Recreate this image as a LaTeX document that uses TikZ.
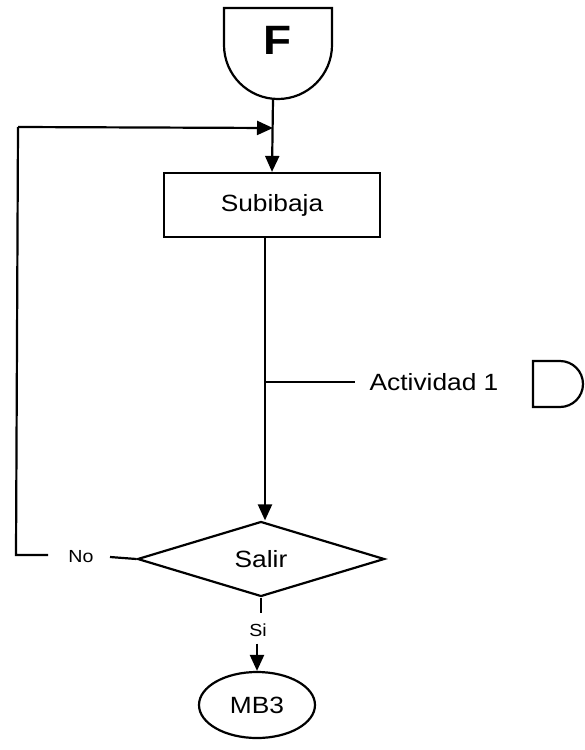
\documentclass[tikz,border=0pt]{standalone}
\usepackage{fontspec}
\setmainfont{Liberation Sans}[FakeStretch=1.12]
\usetikzlibrary{arrows.meta,shapes.geometric,calc}
\begin{document}
\begin{tikzpicture}[x=1pt,y=-1pt,
  line width=2.2pt,
  conn/.style={line width=2.2pt},
  arr/.style={conn,-{Triangle[length=16pt,width=14pt]}},
  bigtxt/.style={font=\fontsize{23.5}{27}\selectfont},
  smalltxt/.style={font=\fontsize{17.5}{20}\selectfont}]
\useasboundingbox (0,0) rectangle (585,750);
% off-page connector F
\draw[conn] (224,8) -- (332,8) -- (332,45) arc[start angle=0,end angle=-180,x radius=54pt,y radius=54pt] -- cycle;
\node[font=\fontsize{41}{44}\selectfont\bfseries] (F) at (278,40) {F};
\coordinate (Fb) at (273,99);
% process box
\node[draw,conn,minimum width=216pt,minimum height=64pt,inner sep=0pt,bigtxt] (sub) at (272,205) {Subibaja};
% decision
\node[draw,conn,diamond,minimum width=247pt,minimum height=75pt,inner sep=0pt,bigtxt] (dec) at (261,559) {Salir};
% terminal
\node[draw,conn,ellipse,minimum width=116pt,minimum height=66pt,inner sep=0pt,bigtxt] (mb) at (257,705) {MB3};
% activity
\node[bigtxt,anchor=center] (act) at (434,382) {Actividad 1};
\draw[conn] (533,361) -- (560,361) arc[start angle=90,end angle=-90,radius=23pt] -- (533,407) -- cycle;
% labels
\node[smalltxt] (no) at (81,557) {No};
\node[smalltxt] (si) at (258,630) {Si};
% connectors
\draw[arr] (Fb) -- (sub.north);
\coordinate (loopin) at (273,128);
\coordinate (tl) at (18,127);
\coordinate (bl) at (16,555);
\coordinate (noL) at (48,555);
\coordinate (noR) at (110,557);
\draw[conn] (noL) -- (bl) -- (tl);
\draw[arr] (tl) -- (loopin);
\draw[conn] (noR) -- (dec.west);
\coordinate (subb) at (265,237);
\draw[arr] (subb) -- (dec.north -| subb);
\coordinate (br) at (265,382);
\coordinate (brE) at (355,382);
\draw[conn] (br) -- (brE);
\coordinate (siT) at ($(dec.south)+(0,15)$);
\coordinate (siB) at ($(dec.south)+(0,46)$);
\draw[conn] (dec.south) -- (siT);
\draw[arr] (mb.north |- siB) -- (mb.north);
\end{tikzpicture}
\end{document}
